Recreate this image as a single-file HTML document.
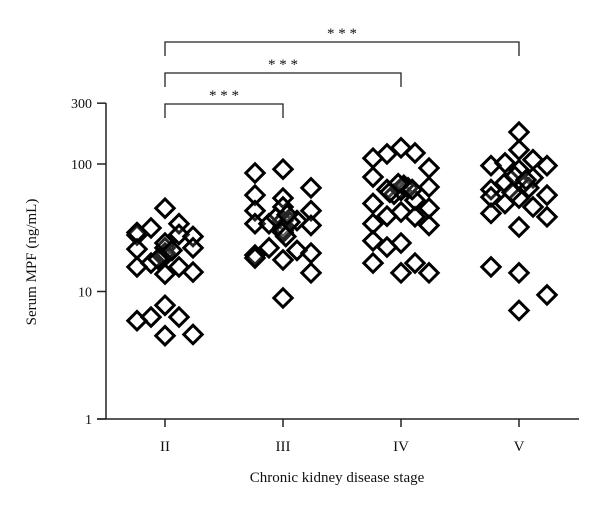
<!DOCTYPE html>
<html><head><meta charset="utf-8"><style>
html,body{margin:0;padding:0;background:#fff;}
svg text{font-family:"Liberation Serif",serif;fill:#111;}
</style></head><body>
<svg id="chart" width="600" height="512" viewBox="0 0 600 512" xmlns="http://www.w3.org/2000/svg"></svg>
<script>
const categories = ["II","III","IV","V"];
const yTicks = [1,10,100,300];
const yTickLabels = ["1","10","100","300"];
// values per group and jitter column (-2..2)
const valuesII = [27.7,29,21.5,15.6,5.9,31.5,16.7,6.3,45,22,19,13.7,7.8,4.5,20,24,18,21,34,28,15.6,6.3,27,22,14.2,4.6];
const colsII   = [-2,-2,-2,-2,-2,-1,-1,-1,0,0,0,0,0,0,0,0,-0.5,0.5,1,1,1,1,2,2,2,2];
const valuesIII = [85,57,43,34,19.3,18.3,91,54,46,36,32,29,17.7,8.9,22,34,36,21,65,43,33,20,14,30,35,38,40,27];
const colsIII   = [-2,-2,-2,-2,-2,-2,0,0,0,0,0,0,0,0,-1,-1,1,1,2,2,2,2,2,0,0.5,-0.5,0.3,0.2];
const valuesIV = [111,79,49,34,25,16.7,120,39,22.3,63,134,42,24,14,122,52,38.5,16.7,93,66,45,33,14,58,62,65,68,70,63,60];
const colsIV   = [-2,-2,-2,-2,-2,-2,-1,-1,-1,-1,0,0,0,0,1,1,1,1,2,2,2,2,2,-0.5,0,0.5,0.2,-0.2,0.8,-0.8];
const valuesV = [178,129,90,54,32,14,7.1,97,63,55,41,15.6,102,49,71,108,78,46,97,57,38.5,9.4,70,80,65,75,60];
const colsV   = [0,0,0,0,0,0,0,-2,-2,-2,-2,-2,-1,-1,-1,1,1,1,2,2,2,2,0.3,-0.3,0.7,0.5,-0.5];
const groupValues = [valuesII,valuesIII,valuesIV,valuesV];
const groupCols = [colsII,colsIII,colsIV,colsV];
const sigPairs = [[0,1],[0,2],[0,3]];
const sigLabels = ["* * *","* * *","* * *"];

const NS="http://www.w3.org/2000/svg";
const svg=document.getElementById('chart');
const plotLeft=106, plotBottom=419, decade=127.5;
function yScale(v){return plotBottom-Math.log10(v)*decade;}
function xScale(i){return 165+i*118;}
function mk(tag,attrs,parent){const e=document.createElementNS(NS,tag);for(const k in attrs)e.setAttribute(k,attrs[k]);(parent||svg).appendChild(e);return e;}

// axes
let ya=mk('line',{x1:plotLeft,y1:yScale(300),x2:plotLeft,y2:plotBottom,stroke:'#222','stroke-width':1.5});


let xa=mk('line',{x1:97,y1:plotBottom,x2:579,y2:plotBottom,stroke:'#222','stroke-width':1.5});


yTicks.forEach((t,i)=>{
  const y=yScale(t);
  const tk=mk('line',{x1:97,y1:y,x2:plotLeft,y2:y,stroke:'#222','stroke-width':1.5});
  
  
  const tx=mk('text',{x:92,y:y+5,'text-anchor':'end','font-size':14});
  tx.textContent=yTickLabels[i];
  
  
});
categories.forEach((c,i)=>{
  const x=xScale(i);
  const tk=mk('line',{x1:x,y1:plotBottom,x2:x,y2:plotBottom+8,stroke:'#222','stroke-width':1.5});
  
  
  const tx=mk('text',{x:x,y:451,'text-anchor':'middle','font-size':15});
  tx.textContent=c;
  
  
});
let xt=mk('text',{x:337,y:482,'text-anchor':'middle','font-size':15});
xt.textContent='Chronic kidney disease stage';


let yt=mk('text',{x:0,y:0,'text-anchor':'middle','font-size':15,transform:'translate(36,262) rotate(-90)'});
yt.textContent='Serum MPF (ng/mL)';



// points
groupValues.forEach((vals,g)=>{
  vals.forEach((v,k)=>{
    const cx=xScale(g)+groupCols[g][k]*14, cy=yScale(v);
    const d=mk('rect',{x:cx-6.5,y:cy-6.5,width:13,height:13,fill:'#fff','fill-opacity':0.15,stroke:'#000','stroke-width':3,transform:`rotate(45 ${cx} ${cy})`});
    
    
  });
});

// significance brackets
const bracketTops=[104,73,42];
sigPairs.forEach((p,i)=>{
  const x1=xScale(p[0]), x2=xScale(p[1]), y=bracketTops[i];
  const b=mk('path',{d:`M${x1},${y+14}V${y}H${x2}V${y+14}`,fill:'none',stroke:'#222','stroke-width':1.3});
  
  
  const s=mk('text',{x:(x1+x2)/2,y:y-4,'text-anchor':'middle','font-size':15});
  s.textContent=sigLabels[i];
  
  
});
</script>
</body></html>
